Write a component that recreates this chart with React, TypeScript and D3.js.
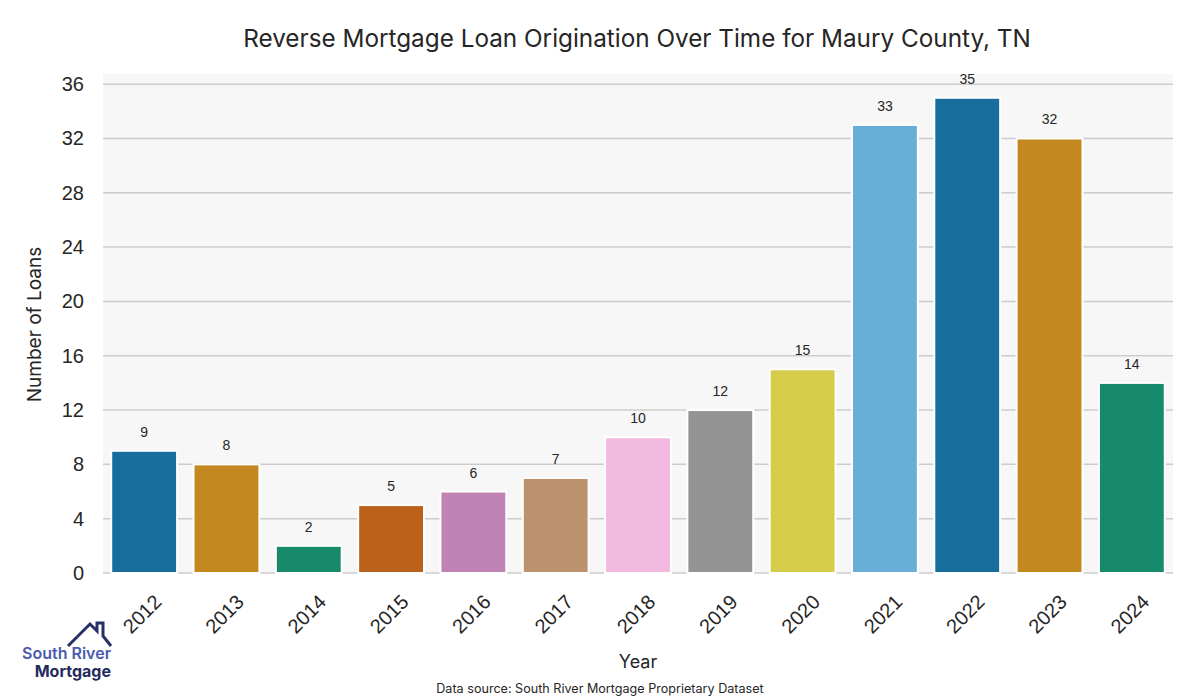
import React from "react";
import * as d3 from "d3";

const years = ["2012","2013","2014","2015","2016","2017","2018","2019","2020","2021","2022","2023","2024"];
const loans = [9, 8, 2, 5, 6, 7, 10, 12, 15, 33, 35, 32, 14];
const barColors = ["#176d9c","#c38820","#168a6a","#ba611b","#c183b6","#bd926e","#f2b9e0","#949494","#d5cd4a","#68afd7","#176d9c","#c38820","#168a6a"];
const yTicks = [0, 4, 8, 12, 16, 20, 24, 28, 32, 36];

const W = 1200, H = 700;
const left = 103, right = 1173, top = 74, bottom = 573;
const geo = "Inter, 'Open Sans', sans-serif";
const arial = "'Liberation Sans', Arial, sans-serif";

export default function App() {
  const x = d3.scaleBand<string>().domain(years).range([left, right]).paddingInner(0.2).paddingOuter(0.1);
  const y = d3.scaleLinear().domain([0, 36.75]).range([bottom, top]);
  return (
    <svg width={W} height={H} style={{ position: "absolute", left: 0, top: 0, background: "#fff" }}>
      <rect x={left} y={top} width={right - left} height={bottom - top} fill="#f7f7f7" />
      {yTicks.map(t => (
        <g key={t}>
          <line x1={left} x2={right} y1={y(t)} y2={y(t)} stroke="#cccccc" strokeWidth={1.5} />
          <text x={84} y={y(t) + 7} textAnchor="end" fontFamily={arial} fontSize={20} fill="#262626">{t}</text>
        </g>
      ))}
      {years.map((yr, i) => (
        <g key={yr}>
          <rect x={x(yr)!} y={y(loans[i])} width={x.bandwidth()} height={y(0) - y(loans[i])} fill={barColors[i]} stroke="#ffffff" strokeWidth={2} />
          <text x={x(yr)! + x.bandwidth() / 2} y={y(loans[i]) - 14} textAnchor="middle" fontFamily={arial} fontSize={14} fill="#262626">{loans[i]}</text>
          <text transform={`translate(${x(yr)! + x.bandwidth() / 2 - 2},${614}) rotate(-45)`} textAnchor="middle" dy="0.35em" fontFamily={arial} fontSize={20} fill="#262626">{yr}</text>
        </g>
      ))}
      <text x={(left + right) / 2 - 1} y={47} textAnchor="middle" fontFamily={geo} fontSize={24.3} fill="#262626">Reverse Mortgage Loan Origination Over Time for Maury County, TN</text>
      <text transform={`translate(41,${(top + bottom) / 2 + 1}) rotate(-90)`} textAnchor="middle" fontFamily={geo} fontSize={19} fill="#262626">Number of Loans</text>
      <text x={(left + right) / 2} y={668} textAnchor="middle" fontFamily={geo} fontSize={18} fill="#262626">Year</text>
      <text x={600} y={693} textAnchor="middle" fontFamily={geo} fontSize={12.6} fill="#262626">Data source: South River Mortgage Proprietary Dataset</text>
      <g>
        <path d="M68,646 L90,624 L97,631 L97,623 L103,623 L103,636 L111,646" fill="none" stroke="#262f66" strokeWidth={3} strokeLinejoin="miter" />
        <text x={111} y={659} textAnchor="end" fontFamily={geo} fontSize={16} fontWeight={600} fill="#4a5cad">South River</text>
        <text x={111} y={677} textAnchor="end" fontFamily={geo} fontSize={16} fontWeight={700} fill="#232b5e">Mortgage</text>
      </g>
    </svg>
  );
}
